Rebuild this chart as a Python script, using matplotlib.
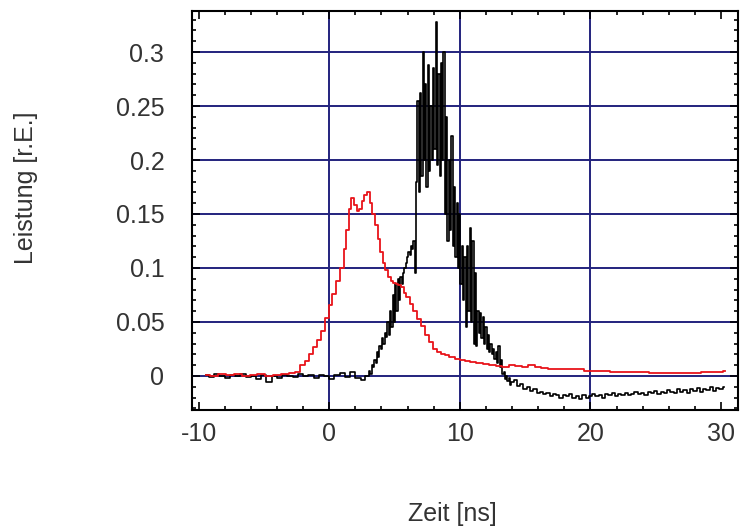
import numpy as np
import matplotlib.pyplot as plt
from matplotlib.ticker import MultipleLocator

plt.rcParams['font.family'] = ['Liberation Sans', 'DejaVu Sans']
plt.rcParams['axes.unicode_minus'] = False

# red trace (Zeit in ns, Leistung in r.E.)
t_red = [-9.4, -8.8, -8.2, -7.6, -7.0, -6.4, -5.8, -5.2, -4.6, -4.0, -3.4, -2.8, -2.4, -2.0,
         -1.7, -1.4, -1.1, -0.8, -0.5, -0.2, 0.1, 0.4, 0.7, 1.0, 1.2, 1.4, 1.6, 1.8, 2.0, 2.2,
         2.4, 2.6, 2.8, 3.0, 3.2, 3.4, 3.6, 3.8, 4.0, 4.2, 4.4, 4.6, 4.8, 5.0, 5.2, 5.4, 5.6,
         5.8, 6.0, 6.3, 6.6, 6.9, 7.2, 7.5, 7.8, 8.1, 8.4, 8.7, 9.0, 9.4, 9.8, 10.2, 10.6, 11.0,
         11.5, 12.0, 12.5, 13.0, 13.5, 14.0, 14.5, 15.0, 15.5, 16.0, 16.5, 17.0, 17.5, 18.0,
         19.0, 20.0, 21.0, 22.0, 23.0, 24.0, 25.0, 26.0, 27.0, 28.0, 29.0, 30.0, 30.3]
p_red = [0.001, 0.000, 0.002, 0.001, 0.002, 0.000, 0.001, 0.002, 0.000, 0.001, 0.002, 0.003,
         0.004, 0.010, 0.014, 0.020, 0.027, 0.033, 0.042, 0.054, 0.066, 0.076, 0.088, 0.100,
         0.118, 0.135, 0.155, 0.165, 0.158, 0.153, 0.155, 0.162, 0.168, 0.170, 0.160, 0.150,
         0.140, 0.127, 0.115, 0.105, 0.098, 0.092, 0.088, 0.086, 0.085, 0.084, 0.082, 0.077,
         0.073, 0.067, 0.060, 0.053, 0.046, 0.038, 0.031, 0.025, 0.022, 0.020, 0.019, 0.018,
         0.016, 0.015, 0.014, 0.013, 0.012, 0.011, 0.010, 0.009, 0.008, 0.010, 0.009, 0.008,
         0.010, 0.008, 0.007, 0.006, 0.006, 0.006, 0.006, 0.005, 0.005, 0.004, 0.004, 0.004,
         0.003, 0.003, 0.003, 0.003, 0.004, 0.004, 0.005]

# black trace
t_black = [-9.4, -9.0, -8.6, -8.2, -7.8, -7.4, -7.0, -6.6, -6.2, -5.8, -5.4, -5.0, -4.6, -4.2,
           -3.8, -3.4, -3.0, -2.6, -2.2, -1.8, -1.4, -1.0, -0.6, -0.2, 0.2, 0.6, 1.0, 1.4, 1.8,
           2.2, 2.6, 2.9,
           3.0, 3.1, 3.2, 3.3, 3.4, 3.5, 3.6, 3.7, 3.8, 3.9,
           4.0, 4.1, 4.2, 4.3, 4.4, 4.5, 4.6, 4.7, 4.8, 4.9,
           5.0, 5.1, 5.2, 5.3, 5.4, 5.5, 5.6, 5.7, 5.8, 5.9,
           6.0, 6.1, 6.2, 6.3, 6.4, 6.5, 6.6, 6.7, 6.8, 6.9,
           7.0, 7.1, 7.2, 7.3, 7.4, 7.5, 7.6, 7.7, 7.8, 7.9,
           8.0, 8.1, 8.2, 8.3, 8.4, 8.5, 8.6, 8.7, 8.8, 8.9,
           9.0, 9.1, 9.2, 9.3, 9.4, 9.5, 9.6, 9.7, 9.8, 9.9,
           10.0, 10.1, 10.2, 10.3, 10.4, 10.5, 10.6, 10.7, 10.8, 10.9,
           11.0, 11.1, 11.2, 11.3, 11.4, 11.5, 11.6, 11.7, 11.8, 11.9,
           12.0, 12.1, 12.2, 12.3, 12.4, 12.5, 12.6, 12.7, 12.8, 12.9,
           13.0, 13.1, 13.2, 13.3, 13.4, 13.5, 13.6, 13.7, 13.8, 13.9, 14.0,
           14.25, 14.5, 14.75, 15.0, 15.25, 15.5, 15.75, 16.0, 16.25, 16.5,
           16.75, 17.0, 17.25, 17.5, 17.75, 18.0, 18.25, 18.5, 18.75, 19.0,
           19.25, 19.5, 19.75, 20.0, 20.25, 20.5, 20.75, 21.0, 21.25, 21.5,
           21.75, 22.0, 22.25, 22.5, 22.75, 23.0, 23.25, 23.5, 23.75, 24.0,
           24.25, 24.5, 24.75, 25.0, 25.25, 25.5, 25.75, 26.0, 26.25, 26.5,
           26.75, 27.0, 27.25, 27.5, 27.75, 28.0, 28.25, 28.5, 28.75, 29.0,
           29.25, 29.5, 29.75, 30.0, 30.25]
p_black = [0.001, -0.001, 0.002, 0.000, -0.002, 0.001, 0.000, 0.002, -0.001, 0.000, -0.003,
           0.001, -0.006, 0.000, -0.002, 0.001, 0.000, -0.001, 0.002, 0.000, 0.001, -0.002,
           0.001, 0.000, -0.003, 0.001, 0.003, -0.001, 0.004, -0.002, -0.004, 0.000,
           0.000, 0.005, 0.002, 0.010, 0.008, 0.015, 0.012, 0.022, 0.018, 0.028,
           0.025, 0.035, 0.030, 0.040, 0.036, 0.050, 0.038, 0.060, 0.045, 0.075,
           0.050, 0.085, 0.060, 0.090, 0.070, 0.092, 0.085, 0.095, 0.100, 0.105,
           0.110, 0.115, 0.112, 0.120, 0.118, 0.125, 0.095, 0.180, 0.255, 0.170,
           0.262, 0.185, 0.300, 0.200, 0.270, 0.175, 0.288, 0.190, 0.250, 0.200,
           0.285, 0.210, 0.328, 0.195, 0.280, 0.185, 0.290, 0.200, 0.300, 0.150,
           0.240, 0.125, 0.200, 0.135, 0.222, 0.120, 0.175, 0.110, 0.160, 0.100,
           0.150, 0.085, 0.120, 0.070, 0.110, 0.045, 0.120, 0.060, 0.137, 0.050,
           0.125, 0.030, 0.095, 0.028, 0.060, 0.040, 0.058, 0.035, 0.055, 0.030,
           0.045, 0.025, 0.038, 0.022, 0.030, 0.020, 0.025, 0.016, 0.022, 0.012,
           0.028, 0.008, 0.015, 0.002, 0.004, -0.003, 0.000, -0.005, -0.002, -0.008, -0.006,
           -0.004, -0.009, -0.007, -0.012, -0.010, -0.014, -0.012, -0.016, -0.015, -0.017,
           -0.016, -0.019, -0.017, -0.018, -0.020, -0.018, -0.019, -0.017, -0.020, -0.019,
           -0.021, -0.018, -0.020, -0.019, -0.017, -0.019, -0.018, -0.020, -0.017, -0.018,
           -0.016, -0.019, -0.017, -0.018, -0.016, -0.018, -0.017, -0.015, -0.017, -0.016,
           -0.018, -0.015, -0.016, -0.014, -0.017, -0.015, -0.016, -0.013, -0.015, -0.016,
           -0.012, -0.015, -0.013, -0.016, -0.012, -0.014, -0.011, -0.015, -0.012, -0.013,
           -0.010, -0.014, -0.011, -0.012, -0.010]

x_ticks = [-10, 0, 10, 20, 30]
y_ticks = [0, 0.05, 0.1, 0.15, 0.2, 0.25, 0.3]
y_labels = ['0', '0.05', '0.1', '0.15', '0.2', '0.25', '0.3']

fig = plt.figure(figsize=(7.51, 5.29), dpi=100)
ax = fig.add_axes([0.2557, 0.2250, 0.7270, 0.7542])

grid_col = '#23237d'
for gx in [0, 10, 20]:
    ax.axvline(gx, color=grid_col, lw=1.4, zorder=1)
for gy in y_ticks:
    ax.axhline(gy, color=grid_col, lw=1.4, zorder=1)

ax.plot(t_black, p_black, color='black', lw=1.2, drawstyle='steps-mid', zorder=3)
ax.plot(t_red, p_red, color='#e8141a', lw=1.3, drawstyle='steps-mid', zorder=4)

ax.set_xlim(-10.5, 31.3)
ax.set_ylim(-0.0315, 0.338)
ax.set_xticks(x_ticks)
ax.set_yticks(y_ticks)
ax.set_yticklabels(y_labels)
ax.xaxis.set_minor_locator(MultipleLocator(2))
ax.yaxis.set_minor_locator(MultipleLocator(0.01))
ax.tick_params(which='both', direction='in', top=True, right=True,
               labelsize=18, labelcolor='#333333', width=1.2)
ax.tick_params(which='major', length=6)
ax.tick_params(which='minor', length=3)
ax.tick_params(axis='x', pad=9)
ax.tick_params(axis='y', pad=20)
for s in ax.spines.values():
    s.set_linewidth(1.5)

fig.text(0.602, 0.006, 'Zeit [ns]', fontsize=18, color='#333333', ha='center', va='bottom')
fig.text(0.035, 0.645, 'Leistung [r.E.]', fontsize=18, color='#333333',
         rotation=90, ha='center', va='center')

fig.savefig('out.png', dpi=100)
